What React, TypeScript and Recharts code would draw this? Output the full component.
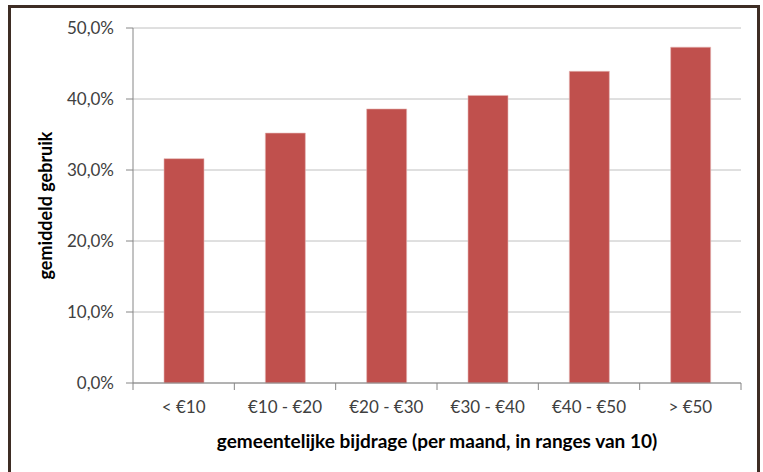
import { BarChart, Bar, XAxis, YAxis, CartesianGrid } from 'recharts';

const categories = ['< €10', '€10 - €20', '€20 - €30', '€30 - €40', '€40 - €50', '> €50'];
const gebruik = [31.6, 35.2, 38.6, 40.5, 43.9, 47.3];
const yTicks = [0, 10, 20, 30, 40, 50];

const FONT = 'Lato, "Liberation Sans", sans-serif';
const TEXT = '#404040';
const AXIS = '#868686';

const chartData = categories.map((name, i) => ({ name, gebruik: gebruik[i] }));

const pct = (v: number) => `${v.toFixed(1).replace('.', ',')}%`;

const TICK_MARGIN = 18;

// category label in the middle, Excel-style tick marks on the band edges
function CategoryTick(props: any) {
  const { x, y, payload, index, width } = props;
  const half = width / categories.length / 2;
  const axisY = y - TICK_MARGIN;
  return (
    <g>
      <line x1={x - half} x2={x - half} y1={axisY} y2={axisY + 7} stroke={AXIS} />
      {index === categories.length - 1 && (
        <line x1={x + half} x2={x + half} y1={axisY} y2={axisY + 7} stroke={AXIS} />
      )}
      <text x={x} y={y} dy="0.71em" textAnchor="middle" fill={TEXT} fontSize={17} fontFamily={FONT}>
        {payload.value}
      </text>
    </g>
  );
}

function YTitle(props: any) {
  const vb = props.viewBox;
  const cy = vb.y + vb.height / 2;
  return (
    <text
      x={45}
      y={cy}
      transform={`rotate(-90, 45, ${cy})`}
      textAnchor="middle"
      dominantBaseline="central"
      fontSize={18}
      fontWeight="bold"
      fill="#000"
      fontFamily={FONT}
    >
      gemiddeld gebruik
    </text>
  );
}

function XTitle(props: any) {
  const vb = props.viewBox;
  return (
    <text
      x={vb.x + vb.width / 2}
      y={440}
      textAnchor="middle"
      dominantBaseline="central"
      fontSize={19}
      fontWeight="bold"
      fill="#000"
      fontFamily={FONT}
    >
      gemeentelijke bijdrage (per maand, in ranges van 10)
    </text>
  );
}

export default function App() {
  return (
    <div style={{ position: 'absolute', left: 0, top: 0, width: 763, height: 472, overflow: 'hidden', background: '#fff' }}>
      <div
        style={{
          position: 'absolute',
          left: 8,
          top: 5,
          width: 746,
          height: 500,
          border: '3px solid #3e2d24',
        }}
      />
      <div style={{ position: 'absolute', left: 0, top: 0 }}>
        <BarChart
          width={763}
          height={472}
          data={chartData}
          margin={{ top: 28, right: 22, bottom: 0, left: 63 }}
          barSize={40}
        >
          <CartesianGrid vertical={false} stroke="#c0c0c0" />
          <XAxis
            dataKey="name"
            tickLine={false}
            tickSize={0}
            tickMargin={TICK_MARGIN}
            axisLine={{ stroke: AXIS }}
            tick={<CategoryTick />}
            interval={0}
            height={89}
            label={<XTitle />}
          />
          <YAxis
            domain={[0, 50]}
            ticks={yTicks}
            tickFormatter={pct}
            width={70}
            tickSize={7}
            tickMargin={12}
            axisLine={{ stroke: AXIS }}
            tickLine={{ stroke: AXIS }}
            tick={{ fill: TEXT, fontSize: 17, fontFamily: FONT }}
            label={<YTitle />}
          />
          <Bar dataKey="gebruik" fill="#c0504d" stroke="#e6b7b5" strokeWidth={0.6} isAnimationActive={false} />
        </BarChart>
      </div>
    </div>
  );
}
